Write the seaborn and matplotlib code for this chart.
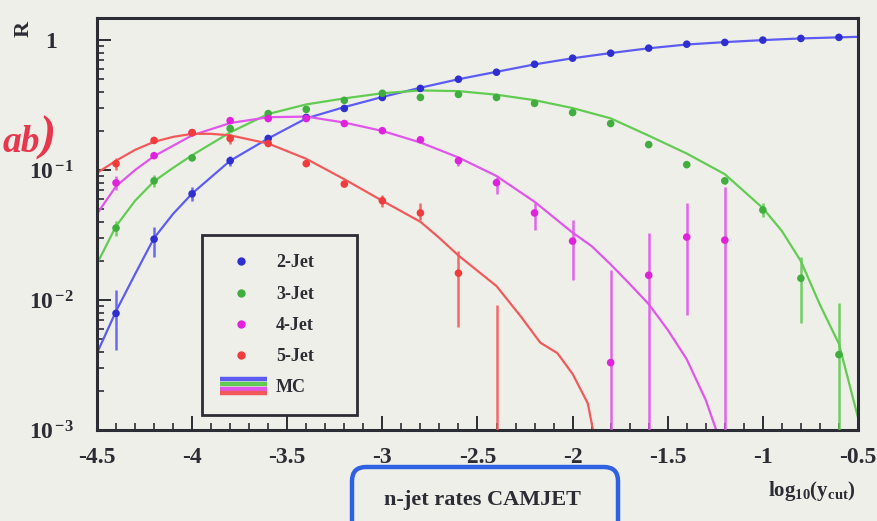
import numpy as np
import pandas as pd
import matplotlib
matplotlib.use("Agg")
import matplotlib.pyplot as plt
import seaborn as sns
from matplotlib.legend_handler import HandlerBase
from matplotlib.lines import Line2D
from matplotlib.patches import FancyBboxPatch
from matplotlib.ticker import MultipleLocator, LogLocator, NullFormatter

# ---------------------------------------------------------------- data
jet_labels = ["2-Jet", "3-Jet", "4-Jet", "5-Jet"]

# measured n-jet rates at log10(y_cut)
x_pts = [-4.4, -4.2, -4.0, -3.8, -3.6, -3.4, -3.2, -3.0, -2.8, -2.6,
         -2.4, -2.2, -2.0, -1.8, -1.6, -1.4, -1.2, -1.0, -0.8, -0.6]
nan = np.nan
r2 = [0.0079, 0.0294, 0.0656, 0.118, 0.175, 0.254, 0.298, 0.362, 0.425, 0.50,
      0.566, 0.652, 0.726, 0.793, 0.867, 0.93, 0.96, 1.0, 1.03, 1.05]
r3 = [0.0358, 0.0826, 0.124, 0.209, 0.272, 0.293, 0.344, 0.39, 0.362, 0.382,
      0.362, 0.326, 0.277, 0.228, 0.157, 0.110, 0.0826, 0.0493, 0.0147, 0.0038]
r4 = [0.0797, 0.129, 0.194, 0.240, 0.249, 0.249, 0.228, 0.201, 0.171, 0.118,
      0.080, 0.0468, 0.0284, 0.0033, 0.0155, 0.0305, 0.0289, nan, nan, nan]
r5 = [0.112, 0.169, 0.194, 0.175, 0.160, 0.112, 0.078, 0.058, 0.0468, 0.0161,
      0.0006, nan, nan, nan, nan, nan, nan, nan, nan, nan]

# asymmetric statistical errors (down, up)
e2_lo = [0.0038, 0.008, 0.008, 0.01, 0, 0, 0, 0, 0, 0, 0, 0, 0, 0, 0, 0, 0, 0, 0, 0]
e2_hi = [0.0040, 0.007, 0.008, 0.01, 0, 0, 0, 0, 0, 0, 0, 0, 0, 0, 0, 0, 0, 0, 0, 0]
e3_lo = [0.0045, 0.008, 0, 0, 0, 0, 0, 0, 0, 0, 0, 0, 0, 0, 0, 0, 0.005, 0.006, 0.0081, 0.0037]
e3_hi = [0.0050, 0.009, 0, 0, 0, 0, 0, 0, 0, 0, 0, 0, 0, 0, 0, 0, 0.005, 0.006, 0.0067, 0.0057]
e4_lo = [0.010, 0, 0, 0, 0, 0, 0, 0, 0, 0.010, 0.014, 0.0123, 0.0141, 0.0032, 0.0154,
         0.0228, 0.0288, 0, 0, 0]
e4_hi = [0.010, 0, 0, 0, 0, 0, 0, 0, 0, 0.010, 0.009, 0.009, 0.0128, 0.0137, 0.0173,
         0.025, 0.045, 0, 0, 0]
e5_lo = [0.012, 0, 0, 0.016, 0, 0, 0, 0.006, 0.0056, 0.0099, 0.0005, 0, 0, 0, 0, 0, 0, 0, 0, 0]
e5_hi = [0.012, 0, 0, 0.016, 0, 0, 0, 0.006, 0.009, 0.0077, 0.0086, 0, 0, 0, 0, 0, 0, 0, 0, 0]

# Monte Carlo predictions
mc2_x = [-4.5, -4.4, -4.3, -4.2, -4.1, -4.0, -3.8, -3.6, -3.4, -3.2, -3.0, -2.8,
         -2.6, -2.4, -2.2, -2.0, -1.8, -1.6, -1.4, -1.2, -1.0, -0.8, -0.6, -0.5]
mc2 = [0.0039, 0.0082, 0.0158, 0.030, 0.046, 0.066, 0.118, 0.175, 0.25, 0.305,
       0.365, 0.43, 0.50, 0.57, 0.65, 0.725, 0.795, 0.865, 0.925, 0.965, 1.0,
       1.03, 1.05, 1.06]
mc3_x = [-4.5, -4.4, -4.3, -4.2, -4.1, -4.0, -3.8, -3.6, -3.4, -3.2, -3.0, -2.8,
         -2.6, -2.4, -2.2, -2.0, -1.8, -1.6, -1.4, -1.2, -1.0, -0.9, -0.8, -0.7,
         -0.6, -0.5]
mc3 = [0.019, 0.037, 0.058, 0.082, 0.104, 0.13, 0.195, 0.27, 0.32, 0.356, 0.39,
       0.41, 0.405, 0.38, 0.345, 0.30, 0.25, 0.184, 0.134, 0.093, 0.051, 0.034,
       0.0199, 0.0092, 0.0046, 0.00125]
mc4_x = [-4.5, -4.4, -4.3, -4.2, -4.0, -3.8, -3.6, -3.4, -3.2, -3.0, -2.8, -2.6,
         -2.4, -2.2, -2.0, -1.9, -1.8, -1.7, -1.6, -1.5, -1.4, -1.3, -1.24]
mc4 = [0.046, 0.075, 0.10, 0.128, 0.185, 0.23, 0.255, 0.258, 0.232, 0.20, 0.163,
       0.125, 0.090, 0.057, 0.033, 0.026, 0.0188, 0.0133, 0.0093, 0.0059, 0.0035,
       0.0017, 0.00095]
mc5_x = [-4.5, -4.4, -4.3, -4.2, -4.1, -4.0, -3.9, -3.8, -3.6, -3.4, -3.2, -3.0,
         -2.8, -2.7, -2.6, -2.4, -2.27, -2.17, -2.08, -2.0, -1.92, -1.89]
mc5 = [0.095, 0.118, 0.143, 0.165, 0.18, 0.19, 0.19, 0.185, 0.16, 0.122, 0.085,
       0.058, 0.040, 0.030, 0.022, 0.0128, 0.0074, 0.0047, 0.0039, 0.0027,
       0.0016, 0.00095]

x_ticks = [-4.5, -4.0, -3.5, -3.0, -2.5, -2.0, -1.5, -1.0, -0.5]
x_tick_labels = ["-4.5", "-4", "-3.5", "-3", "-2.5", "-2", "-1.5", "-1", "-0.5"]
y_ticks = [1e-3, 1e-2, 1e-1, 1.0]
y_tick_labels = [r"$\mathbf{10}^{\,\mathbf{-3}}$", r"$\mathbf{10}^{\,\mathbf{-2}}$",
                 r"$\mathbf{10}^{\,\mathbf{-1}}$", r"$\mathbf{1}$"]

# ---------------------------------------------------------------- styling
BG = "#efefea"
INK = "#2c2c34"
point_colors = {"2-Jet": "#2f2fd0", "3-Jet": "#3fae3f", "4-Jet": "#e022dc", "5-Jet": "#f03c3c"}
line_colors = {"2-Jet": "#5c5cf2", "3-Jet": "#62cc52", "4-Jet": "#e055ea", "5-Jet": "#f25a5a"}

sns.set_theme(style="ticks")
plt.rcParams.update({
    "font.family": ["Liberation Serif", "DejaVu Serif"],
    "mathtext.fontset": "custom",
    "mathtext.rm": "Liberation Serif",
    "mathtext.it": "Liberation Serif:italic",
    "mathtext.bf": "Liberation Serif:bold",
    "axes.unicode_minus": False,
    "figure.facecolor": BG,
    "axes.facecolor": BG,
    "savefig.facecolor": BG,
    "text.color": INK,
})

pts = pd.DataFrame({
    "log_ycut": np.tile(x_pts, 4),
    "R": np.concatenate([r2, r3, r4, r5]),
    "lo": np.concatenate([e2_lo, e3_lo, e4_lo, e5_lo]),
    "hi": np.concatenate([e2_hi, e3_hi, e4_hi, e5_hi]),
    "jets": np.repeat(jet_labels, len(x_pts)),
})
mc = pd.concat([
    pd.DataFrame({"log_ycut": xs, "R": ys, "jets": lab})
    for xs, ys, lab in zip([mc2_x, mc3_x, mc4_x, mc5_x], [mc2, mc3, mc4, mc5], jet_labels)
], ignore_index=True)

fig = plt.figure(figsize=(8.77, 5.21), dpi=100)
ax = fig.add_axes([0.1106, 0.1747, 0.8677, 0.7908])
ax.set_yscale("log")

# MC curves
sns.lineplot(data=mc, x="log_ycut", y="R", hue="jets", palette=line_colors,
             estimator=None, sort=False, linewidth=1.6, legend=False, ax=ax, zorder=2)

# error bars of the measurement
for lab in jet_labels:
    d = pts[(pts["jets"] == lab) & pts["R"].notna() & ((pts["lo"] > 0) | (pts["hi"] > 0))]
    ax.errorbar(d["log_ycut"], d["R"], yerr=[d["lo"], d["hi"]], fmt="none",
                ecolor=line_colors[lab], elinewidth=1.8, capsize=0, alpha=0.9, zorder=3)

# measured points
sns.scatterplot(data=pts.dropna(subset=["R"]), x="log_ycut", y="R", hue="jets",
                palette=point_colors, s=30, edgecolor="none", legend=False, ax=ax, zorder=4)

ax.set_xlim(-4.5, -0.5)
ax.set_ylim(1e-3, 1.48)

ax.set_xticks(x_ticks)
ax.set_xticklabels(x_tick_labels, fontsize=17, fontweight="bold", color=INK)
ax.xaxis.set_minor_locator(MultipleLocator(0.1))
ax.set_yticks(y_ticks)
ax.set_yticklabels(y_tick_labels, fontsize=17, color=INK)
ax.yaxis.set_minor_locator(LogLocator(base=10, subs=np.arange(2, 10)))
ax.yaxis.set_minor_formatter(NullFormatter())

ax.tick_params(which="both", direction="in", color=INK, top=False, right=False)
ax.tick_params(which="major", length=10, width=1.4)
ax.tick_params(which="minor", length=5, width=1.2)
ax.tick_params(axis="x", pad=12)
ax.tick_params(axis="y", pad=33)
for t in ax.get_yticklabels():
    t.set_horizontalalignment("center")

for sp in ax.spines.values():
    sp.set_visible(True)
    sp.set_linewidth(2.2)
    sp.set_color(INK)

ax.set_xlabel(r"$\mathbf{log_{10}(y_{cut})}$", fontsize=15, color=INK)
ax.xaxis.set_label_coords(0.9396, -0.148)
ax.xaxis.label.set_verticalalignment("center")
ax.set_ylabel("")


# ---------------------------------------------------------------- legend
class PointHandler(HandlerBase):
    def create_artists(self, legend, orig_handle, xdescent, ydescent, width,
                       height, fontsize, trans):
        m = Line2D([0.45 * width - xdescent], [0.5 * height - ydescent], ls="none",
                   marker="o", markersize=5, color=orig_handle.get_color(),
                   transform=trans)
        return [m]


class StackedLines(HandlerBase):
    def __init__(self, colors, **kw):
        super().__init__(**kw)
        self.colors = colors

    def create_artists(self, legend, orig_handle, xdescent, ydescent, width,
                       height, fontsize, trans):
        yc = 0.5 * height - ydescent
        gap = 3.4
        arts = []
        for i, c in enumerate(self.colors):
            y = yc + (1.5 - i) * gap
            arts.append(Line2D([-xdescent, width - xdescent], [y, y], color=c,
                               lw=3.2, solid_capstyle="butt", transform=trans))
        return arts


handles = [Line2D([], [], color=point_colors[l], marker="o", ls="none") for l in jet_labels]
mc_handle = Line2D([], [], color="k")
handler_map = {h: PointHandler() for h in handles}
handler_map[mc_handle] = StackedLines([line_colors[l] for l in jet_labels])
leg = ax.legend(handles + [mc_handle], jet_labels + ["MC"], handler_map=handler_map,
                loc="upper left", bbox_to_anchor=(0.138, 0.0, 0.204, 0.473),
                mode="expand", borderaxespad=0, borderpad=1.0, labelspacing=0.72,
                handlelength=2.6, handleheight=1.0, handletextpad=0.5,
                fancybox=False, framealpha=1.0, facecolor=BG, edgecolor=INK,
                prop={"family": "Liberation Serif", "weight": "bold", "size": 13})
leg.get_frame().set_linewidth(2.0)
for t in leg.get_texts():
    t.set_color(INK)

# ---------------------------------------------------------------- annotations
W, H = 877.0, 521.0
fig.text(24 / W, 1 - 29 / H, "R", rotation=90, fontsize=16, fontweight="bold",
         ha="center", va="center", color=INK)
fig.text(3 / W, 1 - 152 / H, "ab", fontsize=27, fontweight="bold", style="italic",
         ha="left", va="baseline", color="#e8374d")
fig.text(40 / W, 1 - 150 / H, ")", fontsize=35, fontweight="bold", style="italic",
         ha="left", va="baseline", color="#e8374d")

box = FancyBboxPatch((352 / W, -0.1), (618 - 352) / W, (521 - 467) / H + 0.1,
                     boxstyle="round,pad=0,rounding_size=0.016",
                     mutation_aspect=W / H, transform=fig.transFigure,
                     facecolor="none", edgecolor="#2f62e2", linewidth=3.2,
                     clip_on=False)
fig.add_artist(box)
fig.text(482 / W, 1 - 500 / H, "n-jet rates CAMJET", fontsize=16, fontweight="bold",
         ha="center", va="center", color=INK)

fig.savefig("out.png", dpi=100)
